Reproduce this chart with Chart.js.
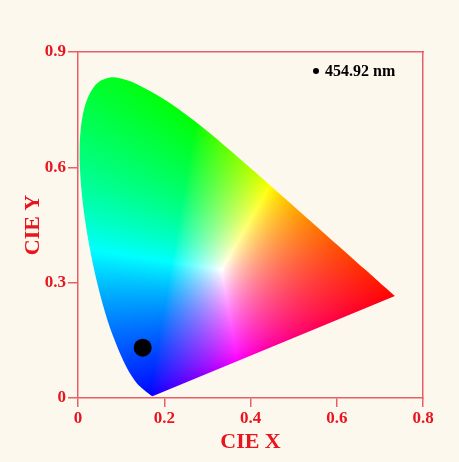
<!DOCTYPE html>
<html>
<head>
<meta charset="utf-8">
<script src="https://cdn.jsdelivr.net/npm/chart.js@4/dist/chart.umd.min.js"></script>
<style>
  html, body { margin: 0; padding: 0; background: #fdf8ee; }
  #wrap { width: 459px; height: 462px; position: relative; }
</style>
</head>
<body>
<div id="wrap"><canvas id="cie"></canvas></div>
<script>
// CIE 1931 2° spectral locus (380–700 nm), chromaticity coordinates
const locusNm = [380, 390, 400, 410, 420, 425, 430, 435, 440, 445, 450, 455, 460, 465, 470, 475,
                 480, 485, 490, 495, 500, 505, 510, 515, 520, 525, 530, 535, 540, 545, 550, 555,
                 560, 565, 570, 575, 580, 585, 590, 595, 600, 605, 610, 620, 630, 640, 650, 660,
                 680, 700];
const locusX = [0.1741, 0.1738, 0.1733, 0.1726, 0.1714, 0.1703, 0.1689, 0.1669, 0.1644, 0.1611,
                0.1566, 0.1510, 0.1440, 0.1355, 0.1241, 0.1096, 0.0913, 0.0687, 0.0454, 0.0235,
                0.0082, 0.0039, 0.0139, 0.0389, 0.0743, 0.1142, 0.1547, 0.1929, 0.2296, 0.2658,
                0.3016, 0.3373, 0.3731, 0.4087, 0.4441, 0.4788, 0.5125, 0.5448, 0.5752, 0.6029,
                0.6270, 0.6482, 0.6658, 0.6915, 0.7079, 0.7190, 0.7260, 0.7300, 0.7334, 0.7347];
const locusY = [0.0050, 0.0049, 0.0048, 0.0048, 0.0051, 0.0058, 0.0069, 0.0086, 0.0109, 0.0138,
                0.0177, 0.0227, 0.0297, 0.0399, 0.0578, 0.0868, 0.1327, 0.2007, 0.2950, 0.4127,
                0.5384, 0.6548, 0.7502, 0.8120, 0.8338, 0.8262, 0.8059, 0.7816, 0.7543, 0.7243,
                0.6923, 0.6589, 0.6245, 0.5896, 0.5547, 0.5202, 0.4866, 0.4544, 0.4242, 0.3965,
                0.3725, 0.3514, 0.3340, 0.3083, 0.2920, 0.2809, 0.2740, 0.2700, 0.2666, 0.2653];

// Emission colour coordinate
const emissionLabel = '454.92 nm';
const emissionX = [0.150];
const emissionY = [0.131];

// Axis tick values
const xTicks = [0, 0.2, 0.4, 0.6, 0.8];
const yTicks = [0, 0.3, 0.6, 0.9];

const RED = '#e8141e';
const AXIS = '#e85f68';
const SERIF = '"Liberation Serif", "Times New Roman", serif';

const locusPts = locusX.map((x, i) => ({ x, y: locusY[i] }));

// xy -> display colour (CIE RGB primaries, clipped, max-normalised)
function xyToRGB(x, y) {
  if (y <= 1e-6) return [0, 0, 0];
  const X = x / y, Y = 1, Z = (1 - x - y) / y;
  let r = 2.3646 * X - 0.8965 * Y - 0.4681 * Z;
  let g = -0.5152 * X + 1.4264 * Y + 0.0888 * Z;
  let b = 0.0052 * X - 0.0144 * Y + 1.0092 * Z;
  r = Math.max(r, 0); g = Math.max(g, 0); b = Math.max(b, 0);
  const m = Math.max(r, g, b) || 1;
  const enc = v => Math.pow(v / m, 0.8);
  return [enc(r) * 255, enc(g) * 255, enc(b) * 255];
}

// Smooth closed outline through the locus points (Catmull-Rom), purple line straight
function tracePath(ctx, pts) {
  const n = pts.length;
  ctx.moveTo(pts[0].x, pts[0].y);
  for (let i = 0; i < n - 1; i++) {
    const p0 = pts[i - 1] || pts[i], p1 = pts[i], p2 = pts[i + 1], p3 = pts[i + 2] || p2;
    ctx.bezierCurveTo(
      p1.x + (p2.x - p0.x) / 6, p1.y + (p2.y - p0.y) / 6,
      p2.x - (p3.x - p1.x) / 6, p2.y - (p3.y - p1.y) / 6,
      p2.x, p2.y);
  }
  ctx.closePath();
}

// Paints the chromaticity colours inside the locus outline (dataset 0)
const locusFill = {
  id: 'locusFill',
  beforeDatasetsDraw(chart) {
    const { ctx, chartArea } = chart;
    const xs = chart.scales.x, ys = chart.scales.y;
    const L = Math.floor(chartArea.left), T = Math.floor(chartArea.top);
    const W = Math.ceil(chartArea.right) - L, H = Math.ceil(chartArea.bottom) - T;
    const key = [L, T, W, H].join(',');
    if (!this._img || this._key !== key) {
      const off = document.createElement('canvas');
      off.width = W; off.height = H;
      const octx = off.getContext('2d');
      const img = octx.createImageData(W, H);
      for (let py = 0; py < H; py++) {
        const yv = ys.getValueForPixel(T + py + 0.5);
        for (let px = 0; px < W; px++) {
          const xv = xs.getValueForPixel(L + px + 0.5);
          const [r, g, b] = xyToRGB(xv, yv);
          const k = (py * W + px) * 4;
          img.data[k] = r; img.data[k + 1] = g; img.data[k + 2] = b; img.data[k + 3] = 255;
        }
      }
      octx.putImageData(img, 0, 0);
      this._img = off; this._key = key;
    }
    const pts = chart.getDatasetMeta(0).data.map(p => ({ x: p.x, y: p.y }));
    ctx.save();
    ctx.beginPath();
    tracePath(ctx, pts);
    ctx.clip();
    ctx.drawImage(this._img, L, T);
    ctx.restore();
  }
};

// Small inset legend in the upper right of the plot
const insetLegend = {
  id: 'insetLegend',
  afterDatasetsDraw(chart) {
    const { ctx, chartArea } = chart;
    const ds = chart.data.datasets[1];
    const cx = chartArea.right - 107, cy = chartArea.top + 19;
    ctx.save();
    ctx.fillStyle = '#000';
    ctx.beginPath();
    ctx.arc(cx, cy, 3, 0, Math.PI * 2);
    ctx.fill();
    ctx.font = 'bold 16px ' + SERIF;
    ctx.textBaseline = 'middle';
    ctx.textAlign = 'left';
    ctx.fillText(ds.label, cx + 9, cy + 1);
    ctx.restore();
  }
};

const tickFont = { family: SERIF, size: 17, weight: 'bold' };
const titleFont = { family: SERIF, size: 22, weight: 'bold' };

new Chart(document.getElementById('cie'), {
  type: 'scatter',
  data: {
    datasets: [
      {
        label: 'spectral locus',
        data: locusPts,
        showLine: false,
        pointRadius: 0
      },
      {
        label: emissionLabel,
        data: emissionX.map((x, i) => ({ x, y: emissionY[i] })),
        pointRadius: 9,
        pointBackgroundColor: '#000',
        pointBorderWidth: 0
      }
    ]
  },
  options: {
    responsive: true,
    maintainAspectRatio: false,
    animation: false,
    events: [],
    layout: { padding: { left: 0, top: 52, right: 36, bottom: 0 } },
    plugins: { legend: { display: false }, tooltip: { enabled: false } },
    scales: {
      x: {
        type: 'linear', position: 'bottom',
        min: xTicks[0], max: xTicks[xTicks.length - 1],
        afterBuildTicks: s => { s.ticks = xTicks.map(v => ({ value: v })); },
        afterFit: s => { s.height = 64; },
        grid: { drawOnChartArea: false, drawTicks: true, tickLength: 9, color: AXIS, lineWidth: 1.5 },
        border: { color: AXIS, width: 1.5 },
        ticks: { color: RED, font: tickFont, padding: 1, maxRotation: 0 },
        title: { display: true, text: 'CIE X', color: RED, font: titleFont, padding: { top: 0, bottom: 6 } }
      },
      y: {
        type: 'linear', position: 'left',
        min: yTicks[0], max: yTicks[yTicks.length - 1],
        afterBuildTicks: s => { s.ticks = yTicks.map(v => ({ value: v })); },
        afterFit: s => { s.width = 78; },
        grid: { drawOnChartArea: false, drawTicks: true, tickLength: 10, color: AXIS, lineWidth: 1.5 },
        border: { color: AXIS, width: 1.5 },
        ticks: { color: RED, font: tickFont, padding: 2 },
        title: { display: true, text: 'CIE Y', color: RED, font: titleFont, padding: { top: 20, bottom: 0 } }
      },
      x2: {
        type: 'linear', position: 'top', min: 0, max: 0.8,
        afterFit: s => { s.height = 0; },
        grid: { display: false },
        border: { color: AXIS, width: 1.5 },
        ticks: { display: false }
      },
      y2: {
        type: 'linear', position: 'right', min: 0, max: 0.9,
        afterFit: s => { s.width = 0; },
        grid: { display: false },
        border: { color: AXIS, width: 1.5 },
        ticks: { display: false }
      }
    }
  },
  plugins: [locusFill, insetLegend]
});
</script>
</body>
</html>
